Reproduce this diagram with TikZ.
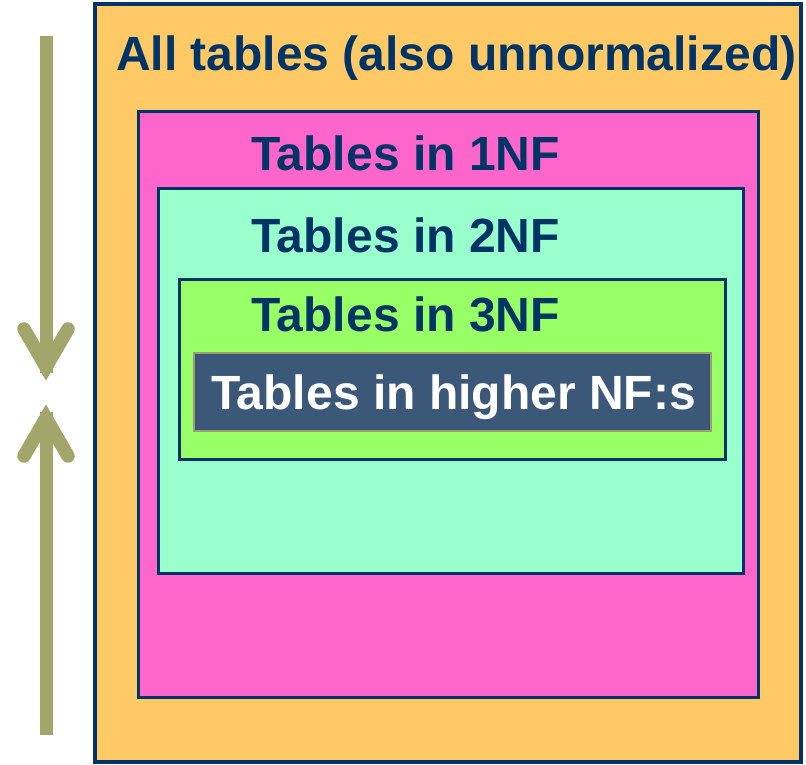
\documentclass[tikz,border=0pt]{standalone}
\usepackage{fontspec}
\setmainfont{Liberation Sans}
\definecolor{navy}{HTML}{003366}
\definecolor{orangefill}{HTML}{FFCA66}
\definecolor{pinkfill}{HTML}{FF66CC}
\definecolor{cyanfill}{HTML}{99FFCC}
\definecolor{greenfill}{HTML}{99FF66}
\definecolor{slatefill}{HTML}{3B5878}
\definecolor{olive}{HTML}{A3A66B}
\begin{document}
\begin{tikzpicture}[x=1pt,y=-1pt,
  setbox/.style={draw=navy,line width=3pt,inner sep=0pt,outer sep=0pt,anchor=north west},
  settext/.style={inner sep=0pt,anchor=base west,text=navy,font=\fontsize{48}{50}\selectfont\bfseries},
  arrowline/.style={draw=olive,line width=13pt},
  chevron/.style={draw=olive,line width=13.5pt,line cap=round,line join=miter}]
\useasboundingbox (0,0) rectangle (806,764);
% boxes
\node[setbox,line width=4pt,fill=orangefill,minimum width=706pt,minimum height=758pt] (all) at (95,4) {};
\node[setbox,fill=pinkfill,minimum width=620pt,minimum height=586pt] (nf1) at (138,111.5) {};
\node[setbox,fill=cyanfill,minimum width=585pt,minimum height=385pt] (nf2) at (158,188) {};
\node[setbox,fill=greenfill,minimum width=546pt,minimum height=180pt] (nf3) at (179,279) {};
\node[setbox,draw=olive!80!gray,line width=1.5pt,fill=slatefill,minimum width=517pt,minimum height=78pt] (hnf) at (194,353) {};
% texts
\node[settext] (tall) at (116,70) {All tables (also unnormalized)};
\node[settext] (t1) at (251,170) {Tables in 1NF};
\node[settext] (t2) at (251,252) {Tables in 2NF};
\node[settext] (t3) at (251,331) {Tables in 3NF};
\node[settext,text=white] (th) at (211,409) {Tables in higher NF:s};
% arrows
\coordinate (dtop) at (46,36);
\coordinate (dtip) at (46,367);
\coordinate (dl) at (24,329);
\coordinate (dr) at (68,329);
\coordinate (ubot) at (46,735);
\coordinate (utip) at (46,418);
\coordinate (ul) at (24,456);
\coordinate (ur) at (68,456);
\draw[arrowline] (dtop) -- ([yshift=-6pt]dtip);
\draw[chevron] (dl) -- (dtip) -- (dr);
\draw[arrowline] (ubot) -- ([yshift=6pt]utip);
\draw[chevron] (ul) -- (utip) -- (ur);
\end{tikzpicture}
\end{document}
